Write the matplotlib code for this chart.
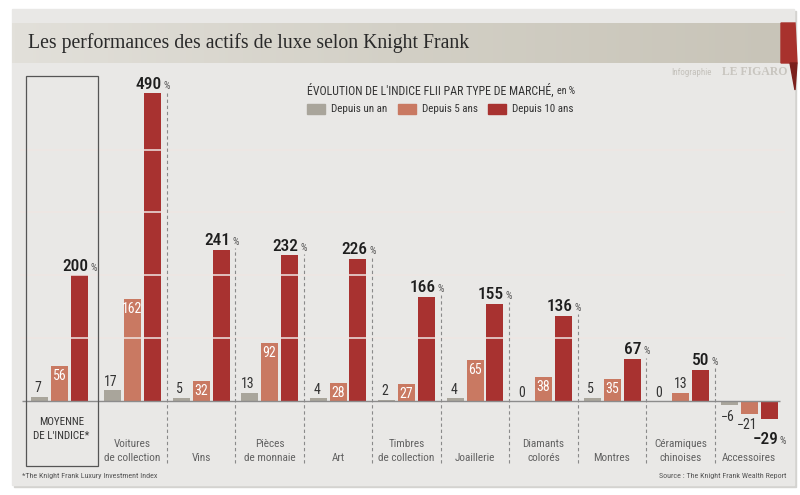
import matplotlib.pyplot as plt
import matplotlib.transforms as mtransforms
from matplotlib.patches import Rectangle, Polygon
from matplotlib.colors import LinearSegmentedColormap
import numpy as np

# data
categories = ["MOYENNE\nDE L'INDICE*", "Voitures\nde collection", "Vins",
              "Pièces\nde monnaie", "Art", "Timbres\nde collection",
              "Joaillerie", "Diamants\ncolorés", "Montres",
              "Céramiques\nchinoises", "Accessoires"]
one_year = [7, 17, 5, 13, 4, 2, 4, 0, 5, 0, -6]
five_years = [56, 162, 32, 92, 28, 27, 65, 38, 35, 13, -21]
ten_years = [200, 490, 241, 232, 226, 166, 155, 136, 67, 50, -29]
series_names = ["Depuis un an", "Depuis 5 ans", "Depuis 10 ans"]
series_colors = ["#a9a59b", "#c97962", "#a83230"]
grid_levels = [100, 200, 300, 400]

NARROW = ["Roboto Condensed", "IBM Plex Sans Condensed", "DejaVu Sans"]
SERIF = ["Liberation Serif", "DejaVu Serif"]
PANEL = "#e9e8e6"

fig = plt.figure(figsize=(8, 4.95), dpi=100)
fig.patch.set_facecolor("white")

# background layer in pixel coordinates
bg = fig.add_axes([0, 0, 1, 1])
bg.axis("off")

bg.add_patch(Rectangle((14, 11), 782, 476, color="#d4d3d0", zorder=0))
bg.add_patch(Rectangle((12, 9), 782, 476, color=PANEL, zorder=1))
grad = np.linspace(0, 1, 256).reshape(1, -1)
cmap = LinearSegmentedColormap.from_list("tb", ["#e2e0da", "#d3d0c6", "#c8c4b8"])
bg.imshow(grad, cmap=cmap, extent=(12, 781, 63, 23), aspect="auto", zorder=2)
bg.add_patch(Polygon([(781, 23), (795, 23), (797, 63), (781, 63)],
                     color="#a8322d", zorder=3))
bg.add_patch(Polygon([(790, 63), (797, 63), (795, 90)], color="#7b201d", zorder=3))
bg.set_xlim(0, 800)
bg.set_ylim(495, 0)

bg.text(28, 43, "Les performances des actifs de luxe selon Knight Frank",
        family=SERIF, fontsize=14.2, color="#2a2a2a", va="center", ha="left",
        zorder=4)
bg.text(712, 72.5, "Infographie", family=NARROW, fontsize=6.5,
        color="#c4c1bb", va="center", ha="right")
bg.text(788, 72, "LE FIGARO", family=SERIF, fontsize=8.5, fontweight="bold",
        color="#c8c5bf", va="center", ha="right")

# legend
leg_title = bg.text(307, 91, "ÉVOLUTION DE L'INDICE FLII PAR TYPE DE MARCHÉ,",
                    family=NARROW, fontsize=8.6, color="#333333", va="center",
                    ha="left")
for lx, name, col in zip([307, 398, 488], series_names, series_colors):
    bg.add_patch(Rectangle((lx, 104), 18, 10, color=col, zorder=3))
    bg.text(lx + 24, 109, name, family=NARROW, fontsize=7.9,
            color="#333333", va="center", ha="left")

bg.text(22, 476, "*The Knight Frank Luxury Investment Index", family=NARROW,
        fontsize=5.8, color="#555555", va="center", ha="left")
bg.text(786, 476, "Source : The Knight Frank Wealth Report", family=NARROW,
        fontsize=5.8, color="#555555", va="center", ha="right")

# data layer
ax = fig.add_axes([0, 0, 1, 1], zorder=2)
ax.patch.set_alpha(0)
ax.axis("off")
GROUP_PX = 68.5
K = 308 / 490  # pixels per unit


def px2x(px):
    return 1 + (px - 132.5) / GROUP_PX


def px2y(py):
    return (401 - py) / K


ax.set_xlim(px2x(0), px2x(800))
ax.set_ylim(px2y(495), px2y(0))

x = np.array([px2x(59.5)] + list(range(1, len(categories))), dtype=float)
step = 20 / GROUP_PX
width = 17 / GROUP_PX
series = [one_year, five_years, ten_years]
for j, (vals, col) in enumerate(zip(series, series_colors)):
    ax.bar(x + (j - 1) * step, vals, width, color=col, zorder=2)

ax.hlines(grid_levels, px2x(20), px2x(785), color="#efe6e3", lw=1.1, zorder=2.5)
ax.hlines(0, px2x(22), px2x(780), color="#8c8c8c", lw=1, zorder=3)

# separators
for i in range(1, len(categories) - 1):
    ax.vlines(x[i] + 0.5, px2y(463), max(ten_years[i], 0) + 2,
              color="#8a8a8a", lw=0.8, linestyles=(0, (3, 2.5)), zorder=3)

ax.add_patch(Rectangle((px2x(26), px2y(466)), 72 / GROUP_PX,
                       px2y(76) - px2y(466), fill=False, ec="#555555",
                       lw=0.9, zorder=4))

lbl = dict(family=NARROW, fontsize=10, textcoords="offset points")
for xi, v in zip(x - step, one_year):
    off = 3.2 if v >= 0 else -11.5
    ax.annotate(str(v).replace("-", "−"), (xi, v), xytext=(-1, off),
                ha="center", va="baseline", color="#333333", **lbl)
for xi, v in zip(x, five_years):
    if v >= 20:
        ax.annotate(str(v), (xi, v), xytext=(0, -10), ha="center",
                    va="baseline", color="white", **lbl)
    elif v >= 0:
        ax.annotate(str(v), (xi, v), xytext=(0, 3.2), ha="center",
                    va="baseline", color="#333333", **lbl)
    else:
        ax.annotate(str(v).replace("-", "−"), (xi, v), xytext=(-1, -11),
                    ha="center", va="baseline", color="#333333", **lbl)
for xi, v in zip(x + step + width / 2, ten_years):
    off = 3.2 if v >= 0 else -17.5
    ax.annotate(str(v).replace("-", "−"), (xi, v), xytext=(0.5, off),
                ha="right", va="baseline", color="#1e1e1e", family=NARROW,
                fontsize=12.5, fontweight="medium", textcoords="offset points")
    ax.annotate("%", (xi, v), xytext=(1.8, off), ha="left", va="baseline",
                color="#555555", family=NARROW, fontsize=7.5,
                textcoords="offset points")

# category labels
tr = mtransforms.blended_transform_factory(ax.transData, bg.transData)
for i, (xi, cat) in enumerate(zip(x, categories)):
    lines = cat.split("\n")
    if i == 0:
        for ln, py in zip(lines, [422, 436]):
            ax.text(xi + 2 / GROUP_PX, py, ln, transform=tr, family=NARROW,
                    fontsize=7.9, color="#333333", ha="center", va="center")
    else:
        ys = [458] if len(lines) == 1 else [444, 458]
        for ln, py in zip(lines, ys):
            ax.text(xi, py, ln, transform=tr, family=NARROW, fontsize=8.1,
                    color="#626262", ha="center", va="center")

# "en %" right after the legend title
fig.canvas.draw()
bb = leg_title.get_window_extent().transformed(bg.transData.inverted())
bg.text(max(bb.x0, bb.x1) + 3, 91.5, "en %", family=NARROW, fontsize=7.2,
        color="#333333", va="center", ha="left")

fig.savefig("out.png", dpi=100, facecolor=fig.get_facecolor())
